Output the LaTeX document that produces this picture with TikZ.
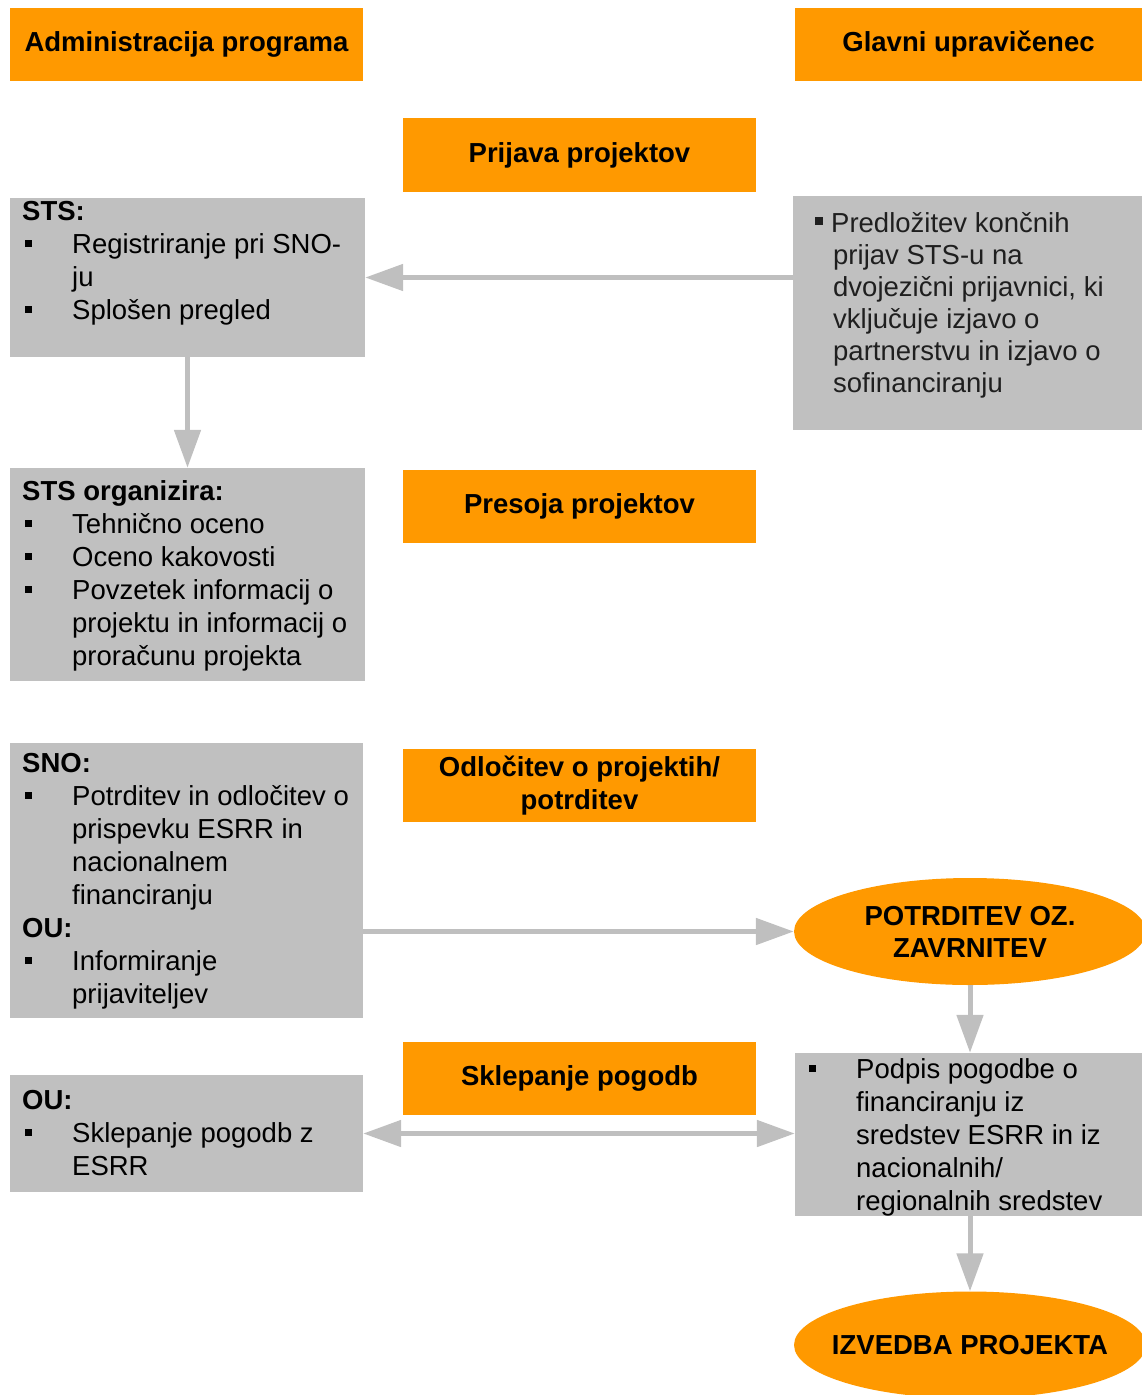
\documentclass[tikz,border=0pt]{standalone}
\usepackage{fontspec}
\setmainfont{Liberation Sans}
\usetikzlibrary{arrows.meta,shapes.geometric}
\definecolor{orng}{HTML}{FF9900}
\definecolor{gbox}{HTML}{C0C0C0}
\definecolor{garr}{HTML}{BFBFBF}
\newcommand\bulA{\makebox[50pt][l]{\hspace{3pt}\rule[6pt]{7pt}{7pt}}}
\newcommand\myind{\hspace*{50pt}}
\newcommand\myfs{\fontsize{27.5}{33}\selectfont}
\newcommand\myfsb{\fontsize{27.5}{32}\selectfont}
\begin{document}
\begin{tikzpicture}[x=1pt,y=-1pt,
 obox/.style={rectangle, fill=orng, inner sep=0, font=\myfs\bfseries, align=center},
 gbx/.style={rectangle, fill=gbox, inner sep=0},
 oell/.style={ellipse, fill=orng, inner sep=0, inner xsep=-30pt, font=\myfsb\bfseries, align=center, minimum width=352pt, minimum height=107pt},
 txt/.style={anchor=north west, inner sep=0, font=\myfs, align=left, text=black},
 arr/.style={draw=garr, line width=5pt, -{Triangle[length=38pt,width=26pt]}},
 darr/.style={draw=garr, line width=5pt, {Triangle[length=38pt,width=26pt]}-{Triangle[length=38pt,width=26pt]}}]
\useasboundingbox (0,0) rectangle (1142,1395);

% header row
\node[obox, minimum width=353pt, minimum height=73pt] (adm) at (186.5,44.5) {Administracija programa};
\node[obox, minimum width=347pt, minimum height=73pt] (glav) at (968.5,44.5) {Glavni upravičenec};

% middle phase labels
\node[obox, minimum width=353pt, minimum height=74pt] (prij) at (579.5,155) {Prijava projektov};
\node[obox, minimum width=353pt, minimum height=73pt] (pres) at (579.5,506.5) {Presoja projektov};
\node[obox, minimum width=353pt, minimum height=73pt] (odl) at (579.5,785.5) {Odločitev o projektih/\\potrditev};
\node[obox, minimum width=353pt, minimum height=73pt] (skl) at (579.5,1078.5) {Sklepanje pogodb};

% gray boxes
\node[gbx, minimum width=355pt, minimum height=159pt] (sts) at (187.5,277.5) {};
\node[gbx, minimum width=349pt, minimum height=234pt] (pred) at (967.5,313) {};
\node[gbx, minimum width=355pt, minimum height=213pt] (orgz) at (187.5,574.5) {};
\node[gbx, minimum width=353pt, minimum height=275pt] (sno) at (186.5,880.5) {};
\node[gbx, minimum width=347pt, minimum height=163pt] (podpis) at (968.5,1134.5) {};
\node[gbx, minimum width=353pt, minimum height=117pt] (ou) at (186.5,1133.5) {};

% ellipses
\node[oell] (pot) at (970,931.5) {POTRDITEV OZ.\\ZAVRNITEV};
\node[oell] (izv) at (970,1345) {IZVEDBA PROJEKTA};

% texts
\node[txt] (ststxt) at (22,198) {\rule{0pt}{22pt}\textbf{STS:}\\
\bulA Registriranje pri SNO-\\
\myind ju\\
\bulA Splošen pregled};

\node[txt, font=\myfsb, text=black!88] (predtxt) at (815,210) {\rule{0pt}{22pt}\rule[7pt]{8pt}{8pt}\hspace{8pt}Predložitev končnih\\
\hspace*{18pt}prijav STS-u na\\
\hspace*{18pt}dvojezični prijavnici, ki\\
\hspace*{18pt}vključuje izjavo o\\
\hspace*{18pt}partnerstvu in izjavo o\\
\hspace*{18pt}sofinanciranju};

\node[txt] (orgtxt) at (22,478) {\rule{0pt}{22pt}\textbf{STS organizira:}\\
\bulA Tehnično oceno\\
\bulA Oceno kakovosti\\
\bulA Povzetek informacij o\\
\myind projektu in informacij o\\
\myind proračunu projekta};

\node[txt] (snotxt) at (22,750) {\rule{0pt}{22pt}\textbf{SNO:}\\
\bulA Potrditev in odločitev o\\
\myind prispevku ESRR in\\
\myind nacionalnem\\
\myind financiranju\\
\textbf{OU:}\\
\bulA Informiranje\\
\myind prijaviteljev};

\node[txt] (outxt) at (22,1087) {\rule{0pt}{22pt}\textbf{OU:}\\
\bulA Sklepanje pogodb z\\
\myind ESRR};

\node[txt] (podtxt) at (806,1056) {\rule{0pt}{22pt}\bulA Podpis pogodbe o\\
\myind financiranju iz\\
\myind sredstev ESRR in iz\\
\myind nacionalnih/\\
\myind regionalnih sredstev};

% connectors
\draw[arr] (sts.east -| pred.west) -- (sts.east);
\draw[arr] (sts.south) -- (orgz.north);
\draw[arr] (sno.east |- pot.west) -- (pot.west);
\draw[arr] (pot.south) -- (pot.south |- podpis.north);
\draw[darr] (ou.east) -- (ou.east -| podpis.west);
\draw[arr] (izv.north |- podpis.south) -- (izv.north);
\end{tikzpicture}
\end{document}
